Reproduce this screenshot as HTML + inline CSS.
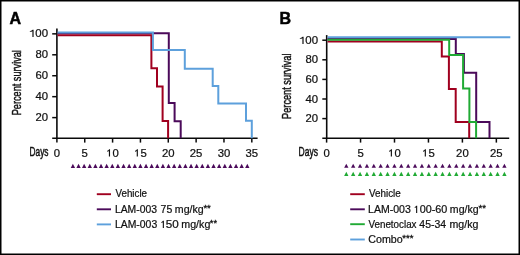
<!DOCTYPE html>
<html><head><meta charset="utf-8"><style>
html,body{margin:0;padding:0;background:#fff;}
body{width:520px;height:255px;overflow:hidden;font-family:"Liberation Sans", sans-serif;}
svg{display:block;will-change:transform;}
</style></head><body>
<svg width="520" height="255" viewBox="0 0 520 255"><rect x="0" y="0" width="520" height="255" fill="none" stroke="#000" stroke-width="3"/>
<text x="9.6" y="23.6" font-family="Liberation Sans" font-weight="bold" font-size="16" fill="#000" stroke="#000" stroke-width="0.5">A</text>
<text x="279.6" y="23.6" font-family="Liberation Sans" font-weight="bold" font-size="16" fill="#000" stroke="#000" stroke-width="0.5">B</text>
<line x1="56.9" y1="28.4" x2="56.9" y2="138.95" stroke="#0a0a0a" stroke-width="1.6"/>
<line x1="52.2" y1="138.2" x2="257.6" y2="138.2" stroke="#0a0a0a" stroke-width="1.6"/>
<line x1="52.2" y1="33.85" x2="56.9" y2="33.85" stroke="#0a0a0a" stroke-width="1.5"/>
<path d="M32.40,37.00 L33.60,37.00 L33.60,29.70 L32.60,29.70 Q32.10,30.72 29.80,31.16 L29.80,31.82 Q31.80,31.67 32.40,31.16 Z" fill="#111"/>
<text x="35.39" y="37.00" font-family="Liberation Sans" font-size="10.4" fill="#111" textLength="12.74" lengthAdjust="spacingAndGlyphs" stroke="#111" stroke-width="0.22">00</text>
<line x1="52.2" y1="54.790000000000006" x2="56.9" y2="54.790000000000006" stroke="#0a0a0a" stroke-width="1.5"/>
<text x="35.50" y="58.39" font-family="Liberation Sans" font-size="10.4" fill="#111" textLength="6.3" lengthAdjust="spacingAndGlyphs" stroke="#111" stroke-width="0.22">8</text><text x="41.80" y="58.39" font-family="Liberation Sans" font-size="10.4" fill="#111" textLength="6.3" lengthAdjust="spacingAndGlyphs" stroke="#111" stroke-width="0.22">0</text>
<line x1="52.2" y1="75.73" x2="56.9" y2="75.73" stroke="#0a0a0a" stroke-width="1.5"/>
<text x="35.50" y="79.33" font-family="Liberation Sans" font-size="10.4" fill="#111" textLength="6.3" lengthAdjust="spacingAndGlyphs" stroke="#111" stroke-width="0.22">6</text><text x="41.80" y="79.33" font-family="Liberation Sans" font-size="10.4" fill="#111" textLength="6.3" lengthAdjust="spacingAndGlyphs" stroke="#111" stroke-width="0.22">0</text>
<line x1="52.2" y1="96.67000000000002" x2="56.9" y2="96.67000000000002" stroke="#0a0a0a" stroke-width="1.5"/>
<text x="35.50" y="100.27" font-family="Liberation Sans" font-size="10.4" fill="#111" textLength="6.3" lengthAdjust="spacingAndGlyphs" stroke="#111" stroke-width="0.22">4</text><text x="41.80" y="100.27" font-family="Liberation Sans" font-size="10.4" fill="#111" textLength="6.3" lengthAdjust="spacingAndGlyphs" stroke="#111" stroke-width="0.22">0</text>
<line x1="52.2" y1="117.61000000000001" x2="56.9" y2="117.61000000000001" stroke="#0a0a0a" stroke-width="1.5"/>
<text x="35.50" y="121.21" font-family="Liberation Sans" font-size="10.4" fill="#111" textLength="6.3" lengthAdjust="spacingAndGlyphs" stroke="#111" stroke-width="0.22">2</text><text x="41.80" y="121.21" font-family="Liberation Sans" font-size="10.4" fill="#111" textLength="6.3" lengthAdjust="spacingAndGlyphs" stroke="#111" stroke-width="0.22">0</text>
<line x1="56.9" y1="138.2" x2="56.9" y2="142.6" stroke="#0a0a0a" stroke-width="1.5"/>
<text x="53.75" y="156.60" font-family="Liberation Sans" font-size="10.4" fill="#111" textLength="6.3" lengthAdjust="spacingAndGlyphs" stroke="#111" stroke-width="0.22">0</text>
<line x1="84.745" y1="138.2" x2="84.745" y2="142.6" stroke="#0a0a0a" stroke-width="1.5"/>
<text x="81.59" y="156.60" font-family="Liberation Sans" font-size="10.4" fill="#111" textLength="6.3" lengthAdjust="spacingAndGlyphs" stroke="#111" stroke-width="0.22">5</text>
<line x1="112.59" y1="138.2" x2="112.59" y2="142.6" stroke="#0a0a0a" stroke-width="1.5"/>
<path d="M108.89,156.60 L110.04,156.60 L110.04,149.25 L109.14,149.25 Q108.69,150.50 107.19,150.85 L107.19,151.80 Q108.29,151.65 108.89,151.00 Z" fill="#111"/><text x="112.59" y="156.60" font-family="Liberation Sans" font-size="10.4" fill="#111" textLength="6.3" lengthAdjust="spacingAndGlyphs" stroke="#111" stroke-width="0.22">0</text>
<line x1="140.435" y1="138.2" x2="140.435" y2="142.6" stroke="#0a0a0a" stroke-width="1.5"/>
<path d="M136.73,156.60 L137.88,156.60 L137.88,149.25 L136.98,149.25 Q136.53,150.50 135.03,150.85 L135.03,151.80 Q136.13,151.65 136.73,151.00 Z" fill="#111"/><text x="140.44" y="156.60" font-family="Liberation Sans" font-size="10.4" fill="#111" textLength="6.3" lengthAdjust="spacingAndGlyphs" stroke="#111" stroke-width="0.22">5</text>
<line x1="168.28" y1="138.2" x2="168.28" y2="142.6" stroke="#0a0a0a" stroke-width="1.5"/>
<text x="161.98" y="156.60" font-family="Liberation Sans" font-size="10.4" fill="#111" textLength="6.3" lengthAdjust="spacingAndGlyphs" stroke="#111" stroke-width="0.22">2</text><text x="168.28" y="156.60" font-family="Liberation Sans" font-size="10.4" fill="#111" textLength="6.3" lengthAdjust="spacingAndGlyphs" stroke="#111" stroke-width="0.22">0</text>
<line x1="196.125" y1="138.2" x2="196.125" y2="142.6" stroke="#0a0a0a" stroke-width="1.5"/>
<text x="189.82" y="156.60" font-family="Liberation Sans" font-size="10.4" fill="#111" textLength="6.3" lengthAdjust="spacingAndGlyphs" stroke="#111" stroke-width="0.22">2</text><text x="196.12" y="156.60" font-family="Liberation Sans" font-size="10.4" fill="#111" textLength="6.3" lengthAdjust="spacingAndGlyphs" stroke="#111" stroke-width="0.22">5</text>
<line x1="223.97" y1="138.2" x2="223.97" y2="142.6" stroke="#0a0a0a" stroke-width="1.5"/>
<text x="217.67" y="156.60" font-family="Liberation Sans" font-size="10.4" fill="#111" textLength="6.3" lengthAdjust="spacingAndGlyphs" stroke="#111" stroke-width="0.22">3</text><text x="223.97" y="156.60" font-family="Liberation Sans" font-size="10.4" fill="#111" textLength="6.3" lengthAdjust="spacingAndGlyphs" stroke="#111" stroke-width="0.22">0</text>
<line x1="251.815" y1="138.2" x2="251.815" y2="142.6" stroke="#0a0a0a" stroke-width="1.5"/>
<text x="245.51" y="156.60" font-family="Liberation Sans" font-size="10.4" fill="#111" textLength="6.3" lengthAdjust="spacingAndGlyphs" stroke="#111" stroke-width="0.22">3</text><text x="251.81" y="156.60" font-family="Liberation Sans" font-size="10.4" fill="#111" textLength="6.3" lengthAdjust="spacingAndGlyphs" stroke="#111" stroke-width="0.22">5</text>
<line x1="326.7" y1="35.1" x2="326.7" y2="138.95" stroke="#0a0a0a" stroke-width="1.6"/>
<line x1="322.3" y1="138.2" x2="509.2" y2="138.2" stroke="#0a0a0a" stroke-width="1.6"/>
<line x1="322.3" y1="40.2" x2="326.7" y2="40.2" stroke="#0a0a0a" stroke-width="1.5"/>
<path d="M302.40,44.00 L303.60,44.00 L303.60,36.70 L302.60,36.70 Q302.10,37.72 299.80,38.16 L299.80,38.82 Q301.80,38.67 302.40,38.16 Z" fill="#111"/>
<text x="305.39" y="44.00" font-family="Liberation Sans" font-size="10.4" fill="#111" textLength="12.74" lengthAdjust="spacingAndGlyphs" stroke="#111" stroke-width="0.22">00</text>
<line x1="322.3" y1="59.800000000000004" x2="326.7" y2="59.800000000000004" stroke="#0a0a0a" stroke-width="1.5"/>
<text x="305.50" y="63.40" font-family="Liberation Sans" font-size="10.4" fill="#111" textLength="6.3" lengthAdjust="spacingAndGlyphs" stroke="#111" stroke-width="0.22">8</text><text x="311.80" y="63.40" font-family="Liberation Sans" font-size="10.4" fill="#111" textLength="6.3" lengthAdjust="spacingAndGlyphs" stroke="#111" stroke-width="0.22">0</text>
<line x1="322.3" y1="79.4" x2="326.7" y2="79.4" stroke="#0a0a0a" stroke-width="1.5"/>
<text x="305.50" y="83.00" font-family="Liberation Sans" font-size="10.4" fill="#111" textLength="6.3" lengthAdjust="spacingAndGlyphs" stroke="#111" stroke-width="0.22">6</text><text x="311.80" y="83.00" font-family="Liberation Sans" font-size="10.4" fill="#111" textLength="6.3" lengthAdjust="spacingAndGlyphs" stroke="#111" stroke-width="0.22">0</text>
<line x1="322.3" y1="99.0" x2="326.7" y2="99.0" stroke="#0a0a0a" stroke-width="1.5"/>
<text x="305.50" y="102.60" font-family="Liberation Sans" font-size="10.4" fill="#111" textLength="6.3" lengthAdjust="spacingAndGlyphs" stroke="#111" stroke-width="0.22">4</text><text x="311.80" y="102.60" font-family="Liberation Sans" font-size="10.4" fill="#111" textLength="6.3" lengthAdjust="spacingAndGlyphs" stroke="#111" stroke-width="0.22">0</text>
<line x1="322.3" y1="118.60000000000001" x2="326.7" y2="118.60000000000001" stroke="#0a0a0a" stroke-width="1.5"/>
<text x="305.50" y="122.20" font-family="Liberation Sans" font-size="10.4" fill="#111" textLength="6.3" lengthAdjust="spacingAndGlyphs" stroke="#111" stroke-width="0.22">2</text><text x="311.80" y="122.20" font-family="Liberation Sans" font-size="10.4" fill="#111" textLength="6.3" lengthAdjust="spacingAndGlyphs" stroke="#111" stroke-width="0.22">0</text>
<line x1="326.6" y1="138.2" x2="326.6" y2="142.6" stroke="#0a0a0a" stroke-width="1.5"/>
<text x="323.45" y="156.60" font-family="Liberation Sans" font-size="10.4" fill="#111" textLength="6.3" lengthAdjust="spacingAndGlyphs" stroke="#111" stroke-width="0.22">0</text>
<line x1="360.55" y1="138.2" x2="360.55" y2="142.6" stroke="#0a0a0a" stroke-width="1.5"/>
<text x="357.40" y="156.60" font-family="Liberation Sans" font-size="10.4" fill="#111" textLength="6.3" lengthAdjust="spacingAndGlyphs" stroke="#111" stroke-width="0.22">5</text>
<line x1="394.5" y1="138.2" x2="394.5" y2="142.6" stroke="#0a0a0a" stroke-width="1.5"/>
<path d="M390.80,156.60 L391.95,156.60 L391.95,149.25 L391.05,149.25 Q390.60,150.50 389.10,150.85 L389.10,151.80 Q390.20,151.65 390.80,151.00 Z" fill="#111"/><text x="394.50" y="156.60" font-family="Liberation Sans" font-size="10.4" fill="#111" textLength="6.3" lengthAdjust="spacingAndGlyphs" stroke="#111" stroke-width="0.22">0</text>
<line x1="428.45000000000005" y1="138.2" x2="428.45000000000005" y2="142.6" stroke="#0a0a0a" stroke-width="1.5"/>
<path d="M424.75,156.60 L425.90,156.60 L425.90,149.25 L425.00,149.25 Q424.55,150.50 423.05,150.85 L423.05,151.80 Q424.15,151.65 424.75,151.00 Z" fill="#111"/><text x="428.45" y="156.60" font-family="Liberation Sans" font-size="10.4" fill="#111" textLength="6.3" lengthAdjust="spacingAndGlyphs" stroke="#111" stroke-width="0.22">5</text>
<line x1="462.40000000000003" y1="138.2" x2="462.40000000000003" y2="142.6" stroke="#0a0a0a" stroke-width="1.5"/>
<text x="456.10" y="156.60" font-family="Liberation Sans" font-size="10.4" fill="#111" textLength="6.3" lengthAdjust="spacingAndGlyphs" stroke="#111" stroke-width="0.22">2</text><text x="462.40" y="156.60" font-family="Liberation Sans" font-size="10.4" fill="#111" textLength="6.3" lengthAdjust="spacingAndGlyphs" stroke="#111" stroke-width="0.22">0</text>
<line x1="496.35" y1="138.2" x2="496.35" y2="142.6" stroke="#0a0a0a" stroke-width="1.5"/>
<text x="490.05" y="156.60" font-family="Liberation Sans" font-size="10.4" fill="#111" textLength="6.3" lengthAdjust="spacingAndGlyphs" stroke="#111" stroke-width="0.22">2</text><text x="496.35" y="156.60" font-family="Liberation Sans" font-size="10.4" fill="#111" textLength="6.3" lengthAdjust="spacingAndGlyphs" stroke="#111" stroke-width="0.22">5</text>
<text x="29.5" y="155.8" font-family="Liberation Sans" font-size="13.3" fill="#111" stroke="#111" stroke-width="0.5" textLength="19.0" lengthAdjust="spacingAndGlyphs">Days</text>
<text x="298.5" y="155.8" font-family="Liberation Sans" font-size="13.3" fill="#111" stroke="#111" stroke-width="0.5" textLength="19.4" lengthAdjust="spacingAndGlyphs">Days</text>
<text x="21.3" y="115.3" transform="rotate(-90 21.3 115.3)" font-family="Liberation Sans" font-size="12.6" fill="#111" stroke="#111" stroke-width="0.45" textLength="65.2" lengthAdjust="spacingAndGlyphs">Percent survival</text>
<text x="291.1" y="118.9" transform="rotate(-90 291.1 118.9)" font-family="Liberation Sans" font-size="12.6" fill="#111" stroke="#111" stroke-width="0.45" textLength="65.4" lengthAdjust="spacingAndGlyphs">Percent survival</text>
<polyline points="57.6,33.3 168.8,33.3 168.8,103.1 174.6,103.1 174.6,121.2 180.7,121.2 180.7,138.2" fill="none" stroke="#4b0a5a" stroke-width="2.0" stroke-linejoin="miter" stroke-linecap="butt"/>
<polyline points="57.6,35.15 151.4,35.15 151.4,68.3 157.0,68.3 157.0,86.4 162.6,86.4 162.6,121.0 168.1,121.0 168.1,138.2" fill="none" stroke="#a0001f" stroke-width="2.0" stroke-linejoin="miter" stroke-linecap="butt"/>
<polyline points="57.6,32.4 152.9,32.4 152.9,50.1 184.8,50.1 184.8,68.8 212.7,68.8 212.7,86.0 218.3,86.0 218.3,103.5 246.0,103.5 246.0,120.8 251.8,120.8 251.8,138.2" fill="none" stroke="#5da0dc" stroke-width="2.0" stroke-linejoin="miter" stroke-linecap="butt"/>
<polyline points="327.6,39.0 455.8,39.0 455.8,54.0 463.9,54.0 463.9,72.7 476.2,72.7 476.2,122.0 489.5,122.0 489.5,138.2" fill="none" stroke="#4b0a5a" stroke-width="2.0" stroke-linejoin="miter" stroke-linecap="butt"/>
<polyline points="327.6,41.4 441.8,41.4 441.8,56.6 448.9,56.6 448.9,88.9 455.7,88.9 455.7,122.0 469.2,122.0 469.2,138.2" fill="none" stroke="#a0001f" stroke-width="2.0" stroke-linejoin="miter" stroke-linecap="butt"/>
<polyline points="327.6,39.7 449.2,39.7 449.2,55.0 463.1,55.0 463.1,88.4 469.4,88.4 469.4,122.0 476.1,122.0 476.1,138.2" fill="none" stroke="#20aa34" stroke-width="2.0" stroke-linejoin="miter" stroke-linecap="butt"/>
<polyline points="327.6,37.3 510.3,37.3" fill="none" stroke="#5da0dc" stroke-width="2.0" stroke-linejoin="miter" stroke-linecap="butt"/>
<path d="M70.75,167.90 L75.05,167.90 L72.90,163.80 Z" fill="#4b0a5a"/>
<path d="M76.38,167.90 L80.68,167.90 L78.53,163.80 Z" fill="#4b0a5a"/>
<path d="M82.00,167.90 L86.30,167.90 L84.15,163.80 Z" fill="#4b0a5a"/>
<path d="M87.63,167.90 L91.93,167.90 L89.78,163.80 Z" fill="#4b0a5a"/>
<path d="M93.25,167.90 L97.55,167.90 L95.40,163.80 Z" fill="#4b0a5a"/>
<path d="M98.88,167.90 L103.18,167.90 L101.03,163.80 Z" fill="#4b0a5a"/>
<path d="M104.50,167.90 L108.80,167.90 L106.65,163.80 Z" fill="#4b0a5a"/>
<path d="M110.13,167.90 L114.43,167.90 L112.28,163.80 Z" fill="#4b0a5a"/>
<path d="M115.76,167.90 L120.06,167.90 L117.91,163.80 Z" fill="#4b0a5a"/>
<path d="M121.38,167.90 L125.68,167.90 L123.53,163.80 Z" fill="#4b0a5a"/>
<path d="M127.01,167.90 L131.31,167.90 L129.16,163.80 Z" fill="#4b0a5a"/>
<path d="M132.63,167.90 L136.93,167.90 L134.78,163.80 Z" fill="#4b0a5a"/>
<path d="M138.26,167.90 L142.56,167.90 L140.41,163.80 Z" fill="#4b0a5a"/>
<path d="M143.89,167.90 L148.19,167.90 L146.04,163.80 Z" fill="#4b0a5a"/>
<path d="M149.51,167.90 L153.81,167.90 L151.66,163.80 Z" fill="#4b0a5a"/>
<path d="M155.14,167.90 L159.44,167.90 L157.29,163.80 Z" fill="#4b0a5a"/>
<path d="M160.76,167.90 L165.06,167.90 L162.91,163.80 Z" fill="#4b0a5a"/>
<path d="M166.39,167.90 L170.69,167.90 L168.54,163.80 Z" fill="#4b0a5a"/>
<path d="M172.01,167.90 L176.31,167.90 L174.16,163.80 Z" fill="#4b0a5a"/>
<path d="M177.64,167.90 L181.94,167.90 L179.79,163.80 Z" fill="#4b0a5a"/>
<path d="M183.27,167.90 L187.57,167.90 L185.42,163.80 Z" fill="#4b0a5a"/>
<path d="M188.89,167.90 L193.19,167.90 L191.04,163.80 Z" fill="#4b0a5a"/>
<path d="M194.52,167.90 L198.82,167.90 L196.67,163.80 Z" fill="#4b0a5a"/>
<path d="M200.14,167.90 L204.44,167.90 L202.29,163.80 Z" fill="#4b0a5a"/>
<path d="M205.77,167.90 L210.07,167.90 L207.92,163.80 Z" fill="#4b0a5a"/>
<path d="M211.40,167.90 L215.70,167.90 L213.55,163.80 Z" fill="#4b0a5a"/>
<path d="M217.02,167.90 L221.32,167.90 L219.17,163.80 Z" fill="#4b0a5a"/>
<path d="M222.65,167.90 L226.95,167.90 L224.80,163.80 Z" fill="#4b0a5a"/>
<path d="M228.27,167.90 L232.57,167.90 L230.42,163.80 Z" fill="#4b0a5a"/>
<path d="M233.90,167.90 L238.20,167.90 L236.05,163.80 Z" fill="#4b0a5a"/>
<path d="M239.52,167.90 L243.82,167.90 L241.67,163.80 Z" fill="#4b0a5a"/>
<path d="M245.15,167.90 L249.45,167.90 L247.30,163.80 Z" fill="#4b0a5a"/>
<path d="M344.15,167.80 L348.45,167.80 L346.30,163.70 Z" fill="#4b0a5a"/>
<path d="M344.15,175.90 L348.45,175.90 L346.30,171.80 Z" fill="#20aa34"/>
<path d="M351.02,167.80 L355.32,167.80 L353.17,163.70 Z" fill="#4b0a5a"/>
<path d="M351.02,175.90 L355.32,175.90 L353.17,171.80 Z" fill="#20aa34"/>
<path d="M357.90,167.80 L362.20,167.80 L360.05,163.70 Z" fill="#4b0a5a"/>
<path d="M357.90,175.90 L362.20,175.90 L360.05,171.80 Z" fill="#20aa34"/>
<path d="M364.77,167.80 L369.07,167.80 L366.92,163.70 Z" fill="#4b0a5a"/>
<path d="M364.77,175.90 L369.07,175.90 L366.92,171.80 Z" fill="#20aa34"/>
<path d="M371.65,167.80 L375.95,167.80 L373.80,163.70 Z" fill="#4b0a5a"/>
<path d="M371.65,175.90 L375.95,175.90 L373.80,171.80 Z" fill="#20aa34"/>
<path d="M378.52,167.80 L382.82,167.80 L380.67,163.70 Z" fill="#4b0a5a"/>
<path d="M378.52,175.90 L382.82,175.90 L380.67,171.80 Z" fill="#20aa34"/>
<path d="M385.39,167.80 L389.69,167.80 L387.54,163.70 Z" fill="#4b0a5a"/>
<path d="M385.39,175.90 L389.69,175.90 L387.54,171.80 Z" fill="#20aa34"/>
<path d="M392.27,167.80 L396.57,167.80 L394.42,163.70 Z" fill="#4b0a5a"/>
<path d="M392.27,175.90 L396.57,175.90 L394.42,171.80 Z" fill="#20aa34"/>
<path d="M399.14,167.80 L403.44,167.80 L401.29,163.70 Z" fill="#4b0a5a"/>
<path d="M399.14,175.90 L403.44,175.90 L401.29,171.80 Z" fill="#20aa34"/>
<path d="M406.02,167.80 L410.32,167.80 L408.17,163.70 Z" fill="#4b0a5a"/>
<path d="M406.02,175.90 L410.32,175.90 L408.17,171.80 Z" fill="#20aa34"/>
<path d="M412.89,167.80 L417.19,167.80 L415.04,163.70 Z" fill="#4b0a5a"/>
<path d="M412.89,175.90 L417.19,175.90 L415.04,171.80 Z" fill="#20aa34"/>
<path d="M419.76,167.80 L424.06,167.80 L421.91,163.70 Z" fill="#4b0a5a"/>
<path d="M419.76,175.90 L424.06,175.90 L421.91,171.80 Z" fill="#20aa34"/>
<path d="M426.64,167.80 L430.94,167.80 L428.79,163.70 Z" fill="#4b0a5a"/>
<path d="M426.64,175.90 L430.94,175.90 L428.79,171.80 Z" fill="#20aa34"/>
<path d="M433.51,167.80 L437.81,167.80 L435.66,163.70 Z" fill="#4b0a5a"/>
<path d="M433.51,175.90 L437.81,175.90 L435.66,171.80 Z" fill="#20aa34"/>
<path d="M440.38,167.80 L444.68,167.80 L442.53,163.70 Z" fill="#4b0a5a"/>
<path d="M440.38,175.90 L444.68,175.90 L442.53,171.80 Z" fill="#20aa34"/>
<path d="M447.26,167.80 L451.56,167.80 L449.41,163.70 Z" fill="#4b0a5a"/>
<path d="M447.26,175.90 L451.56,175.90 L449.41,171.80 Z" fill="#20aa34"/>
<path d="M454.13,167.80 L458.43,167.80 L456.28,163.70 Z" fill="#4b0a5a"/>
<path d="M454.13,175.90 L458.43,175.90 L456.28,171.80 Z" fill="#20aa34"/>
<path d="M461.01,167.80 L465.31,167.80 L463.16,163.70 Z" fill="#4b0a5a"/>
<path d="M461.01,175.90 L465.31,175.90 L463.16,171.80 Z" fill="#20aa34"/>
<path d="M467.88,167.80 L472.18,167.80 L470.03,163.70 Z" fill="#4b0a5a"/>
<path d="M467.88,175.90 L472.18,175.90 L470.03,171.80 Z" fill="#20aa34"/>
<path d="M474.75,167.80 L479.05,167.80 L476.90,163.70 Z" fill="#4b0a5a"/>
<path d="M474.75,175.90 L479.05,175.90 L476.90,171.80 Z" fill="#20aa34"/>
<path d="M481.63,167.80 L485.93,167.80 L483.78,163.70 Z" fill="#4b0a5a"/>
<path d="M481.63,175.90 L485.93,175.90 L483.78,171.80 Z" fill="#20aa34"/>
<path d="M488.50,167.80 L492.80,167.80 L490.65,163.70 Z" fill="#4b0a5a"/>
<path d="M488.50,175.90 L492.80,175.90 L490.65,171.80 Z" fill="#20aa34"/>
<path d="M495.38,167.80 L499.68,167.80 L497.53,163.70 Z" fill="#4b0a5a"/>
<path d="M495.38,175.90 L499.68,175.90 L497.53,171.80 Z" fill="#20aa34"/>
<path d="M502.25,167.80 L506.55,167.80 L504.40,163.70 Z" fill="#4b0a5a"/>
<path d="M502.25,175.90 L506.55,175.90 L504.40,171.80 Z" fill="#20aa34"/>
<line x1="96.8" y1="194.2" x2="111.0" y2="194.2" stroke="#a0001f" stroke-width="1.9"/><text x="115.46" y="197.40" font-family="Liberation Sans" font-size="10.4" fill="#111" textLength="31.56" lengthAdjust="spacingAndGlyphs" stroke="#111" stroke-width="0.22">Vehicle</text>
<line x1="96.8" y1="209.3" x2="111.0" y2="209.3" stroke="#4b0a5a" stroke-width="1.9"/><text x="114.94" y="212.70" font-family="Liberation Sans" font-size="10.4" fill="#111" textLength="42.07" lengthAdjust="spacingAndGlyphs" stroke="#111" stroke-width="0.22">LAM-003</text><text x="160.64" y="212.70" font-family="Liberation Sans" font-size="10.4" fill="#111" textLength="11.67" lengthAdjust="spacingAndGlyphs" stroke="#111" stroke-width="0.22">75</text><text x="174.88" y="212.70" font-family="Liberation Sans" font-size="10.4" fill="#111" textLength="28.87" lengthAdjust="spacingAndGlyphs" stroke="#111" stroke-width="0.22">mg/kg</text><text x="203.42" y="211.10" font-family="Liberation Sans" font-size="9.5" fill="#111" textLength="7.40" lengthAdjust="spacingAndGlyphs" stroke="#111" stroke-width="0.3">**</text>
<line x1="96.8" y1="224.4" x2="111.0" y2="224.4" stroke="#5da0dc" stroke-width="1.9"/><text x="114.94" y="227.70" font-family="Liberation Sans" font-size="10.4" fill="#111" textLength="42.27" lengthAdjust="spacingAndGlyphs" stroke="#111" stroke-width="0.22">LAM-003</text><path d="M162.80,228.00 L163.90,228.00 L163.90,220.70 L163.00,220.70 Q162.50,221.72 161.20,222.16 L161.20,222.82 Q162.20,222.67 162.80,222.16 Z" fill="#111"/><text x="165.88" y="227.70" font-family="Liberation Sans" font-size="10.4" fill="#111" textLength="12.96" lengthAdjust="spacingAndGlyphs" stroke="#111" stroke-width="0.22">50</text><text x="181.27" y="227.70" font-family="Liberation Sans" font-size="10.4" fill="#111" textLength="29.08" lengthAdjust="spacingAndGlyphs" stroke="#111" stroke-width="0.22">mg/kg</text><text x="209.83" y="226.10" font-family="Liberation Sans" font-size="9.5" fill="#111" textLength="7.18" lengthAdjust="spacingAndGlyphs" stroke="#111" stroke-width="0.3">**</text>
<line x1="350.2" y1="194.2" x2="364.8" y2="194.2" stroke="#a0001f" stroke-width="1.9"/><text x="368.96" y="197.40" font-family="Liberation Sans" font-size="10.4" fill="#111" textLength="31.87" lengthAdjust="spacingAndGlyphs" stroke="#111" stroke-width="0.22">Vehicle</text>
<line x1="350.2" y1="209.3" x2="364.8" y2="209.3" stroke="#4b0a5a" stroke-width="1.9"/><text x="368.03" y="212.70" font-family="Liberation Sans" font-size="10.4" fill="#111" textLength="42.79" lengthAdjust="spacingAndGlyphs" stroke="#111" stroke-width="0.22">LAM-003</text><path d="M416.10,213.00 L417.20,213.00 L417.20,205.70 L416.30,205.70 Q415.80,206.72 414.60,207.16 L414.60,207.82 Q415.50,207.67 416.10,207.16 Z" fill="#111"/><text x="419.72" y="212.70" font-family="Liberation Sans" font-size="10.4" fill="#111" textLength="27.59" lengthAdjust="spacingAndGlyphs" stroke="#111" stroke-width="0.22">00-60</text><text x="449.88" y="212.70" font-family="Liberation Sans" font-size="10.4" fill="#111" textLength="28.76" lengthAdjust="spacingAndGlyphs" stroke="#111" stroke-width="0.22">mg/kg</text><text x="478.42" y="211.10" font-family="Liberation Sans" font-size="9.5" fill="#111" textLength="7.50" lengthAdjust="spacingAndGlyphs" stroke="#111" stroke-width="0.3">**</text>
<line x1="350.2" y1="224.2" x2="364.8" y2="224.2" stroke="#20aa34" stroke-width="1.9"/><text x="368.46" y="227.70" font-family="Liberation Sans" font-size="10.4" fill="#111" textLength="48.07" lengthAdjust="spacingAndGlyphs" stroke="#111" stroke-width="0.22">Venetoclax</text><text x="419.33" y="227.70" font-family="Liberation Sans" font-size="10.4" fill="#111" textLength="26.73" lengthAdjust="spacingAndGlyphs" stroke="#111" stroke-width="0.22">45-34</text><text x="449.48" y="227.70" font-family="Liberation Sans" font-size="10.4" fill="#111" textLength="28.87" lengthAdjust="spacingAndGlyphs" stroke="#111" stroke-width="0.22">mg/kg</text>
<line x1="350.2" y1="239.5" x2="364.8" y2="239.5" stroke="#5da0dc" stroke-width="1.9"/><text x="368.30" y="243.00" font-family="Liberation Sans" font-size="10.4" fill="#111" textLength="34.38" lengthAdjust="spacingAndGlyphs" stroke="#111" stroke-width="0.22">Combo</text><text x="402.32" y="241.40" font-family="Liberation Sans" font-size="9.5" fill="#111" textLength="11.10" lengthAdjust="spacingAndGlyphs" stroke="#111" stroke-width="0.3">***</text></svg>
</body></html>
